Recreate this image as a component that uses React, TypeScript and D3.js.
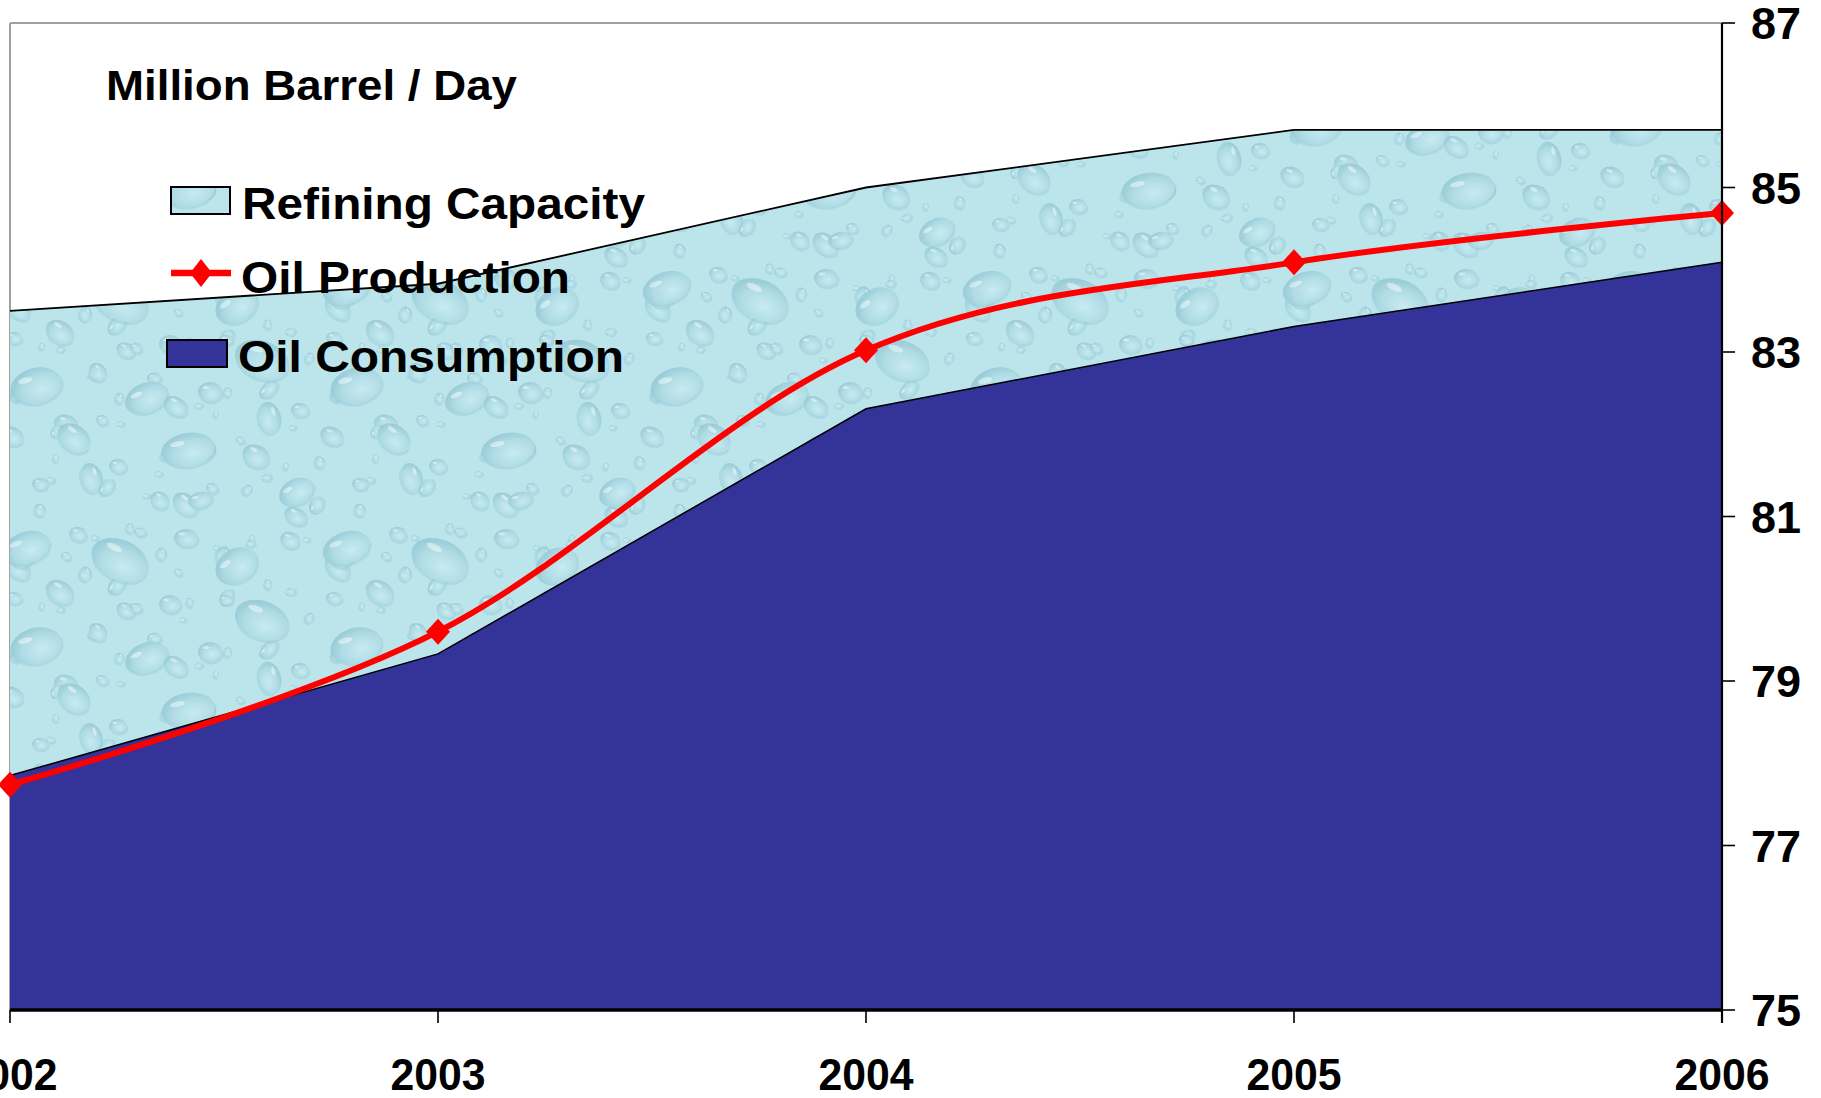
import React from 'react';
import * as d3 from 'd3';

const years = [2002, 2003, 2004, 2005, 2006];
const refiningCapacity = [83.5, 83.83, 85.0, 85.7, 85.7];
const oilProduction = [77.74, 79.6, 83.02, 84.09, 84.69];
const oilConsumption = [77.85, 79.33, 82.31, 83.31, 84.09];
const yTicks = [75, 77, 79, 81, 83, 85, 87];
const titleText = 'Million Barrel / Day';
const legendLabels = ['Refining Capacity', 'Oil Production', 'Oil Consumption'];

// decorative droplet texture tile (cx, cy, rx, ry, rotation)
const drops: [number, number, number, number, number][] = [
  [26, 28, 24, 16, -20], [78, 14, 9, 7, 10], [120, 40, 30, 20, 25], [186, 18, 12, 9, 0], [236, 46, 22, 17, -35],
  [290, 20, 10, 8, 15], [14, 78, 8, 6, 0], [60, 72, 15, 11, 30], [170, 84, 11, 9, 0], [262, 100, 28, 19, 20],
  [36, 126, 26, 18, -15], [98, 112, 10, 8, 40], [146, 138, 22, 15, -25], [210, 132, 12, 10, 0], [300, 150, 9, 7, 0],
  [12, 176, 12, 9, 20], [74, 178, 18, 13, 35], [118, 206, 9, 7, 0], [188, 190, 27, 17, -10], [256, 196, 14, 11, 25],
  [40, 224, 8, 6, 0], [102, 160, 6, 5, 0], [226, 80, 7, 5, 0], [160, 240, 10, 8, 30], [296, 232, 18, 13, -30],
  [66, 36, 5, 4, 0], [212, 228, 6, 5, 0], [136, 88, 6, 5, 0],
];
const TILE_W = 320;
const TILE_H = 260;

const FONT = "'Liberation Sans', Arial, Helvetica, sans-serif";

export default function App() {
  const W = 1821;
  const H = 1098;
  const x = d3.scaleLinear().domain([2002, 2006]).range([10, 1722]);
  const y = d3.scaleLinear().domain([75, 87]).range([1010, 23]);

  const idx = years.map((_, i) => i);
  const areaRef = d3.area<number>().x((i) => x(years[i])).y0(y(75)).y1((i) => y(refiningCapacity[i]))(idx) || '';
  const lineRef = d3.line<number>().x((i) => x(years[i])).y((i) => y(refiningCapacity[i]))(idx) || '';
  const areaCons = d3.area<number>().x((i) => x(years[i])).y0(y(75)).y1((i) => y(oilConsumption[i]))(idx) || '';
  const lineCons = d3.line<number>().x((i) => x(years[i])).y((i) => y(oilConsumption[i]))(idx) || '';
  const lineProd = d3.line<number>().curve(d3.curveCardinal.tension(0)).x((i) => x(years[i])).y((i) => y(oilProduction[i]))(idx) || '';

  const diamond = (cx: number, cy: number, w = 12, h = 13) => `M${cx},${cy - h}L${cx + w},${cy}L${cx},${cy + h}L${cx - w},${cy}Z`;

  const left = x.range()[0];
  const right = x.range()[1];
  const top = y.range()[1];
  const bottom = y.range()[0];

  // three layers of the droplet list: shifted/scaled copies for density
  const layers: [number, number, number, number][] = [
    [150, 118, 0.55, 50],
    [80, 200, 0.4, -40],
    [0, 0, 1, 0],
  ];
  const tileDrops = [] as any[];
  layers.forEach(([sx, sy, sc, dr], L) => {
    drops.forEach(([cx0, cy0, rx0, ry0, rot0], k) => {
      const cx = (cx0 + sx) % TILE_W;
      const cy = (cy0 + sy) % TILE_H;
      const rx = Math.max(3, rx0 * sc);
      const ry = Math.max(2.5, ry0 * sc);
      const rot = rot0 + dr;
      const offs = [[0, 0], [TILE_W, 0], [-TILE_W, 0], [0, TILE_H], [0, -TILE_H], [TILE_W, TILE_H], [-TILE_W, -TILE_H], [TILE_W, -TILE_H], [-TILE_W, TILE_H]];
      offs.forEach(([ox, oy], j) => {
        const X = cx + ox;
        const Y = cy + oy;
        const m = Math.max(rx, ry) + 4;
        if (X + m < 0 || X - m > TILE_W || Y + m < 0 || Y - m > TILE_H) return;
        tileDrops.push(
          <g key={`${L}-${k}-${j}`} transform={`translate(${X},${Y}) rotate(${rot})`}>
            <ellipse cx={1.5} cy={2.5} rx={rx} ry={ry} fill="#94c7d2" opacity={0.4} />
            <ellipse cx={0} cy={0} rx={rx} ry={ry} fill="url(#dropGrad)" opacity={0.85} />
            <ellipse cx={-rx * 0.35} cy={-ry * 0.45} rx={Math.max(1.2, rx * 0.28)} ry={Math.max(0.9, ry * 0.16)} fill="#ffffff" opacity={0.45} />
          </g>
        );
      });
    });
  });

  return (
    <svg width={W} height={H} style={{ position: 'absolute', left: 0, top: 0, background: '#ffffff' }} fontFamily={FONT}>
      <defs>
        <radialGradient id="dropGrad" cx="0.6" cy="0.62" r="0.62">
          <stop offset="0%" stopColor="#cdeef4" />
          <stop offset="65%" stopColor="#b0dce5" />
          <stop offset="100%" stopColor="#95c9d5" />
        </radialGradient>
        <pattern id="water" patternUnits="userSpaceOnUse" width={TILE_W} height={TILE_H}>
          <rect width={TILE_W} height={TILE_H} fill="#bbe4eb" />
          {tileDrops}
        </pattern>
      </defs>
      <rect x={0} y={0} width={W} height={H} fill="#ffffff" />

      {/* plot area border */}
      <line x1={left} y1={top} x2={right} y2={top} stroke="#a0a0a0" strokeWidth={2} />
      <line x1={left} y1={top} x2={left} y2={bottom} stroke="#a0a0a0" strokeWidth={2} />

      {/* Refining capacity area */}
      <path d={areaRef} fill="url(#water)" />
      <path d={lineRef} fill="none" stroke="#000" strokeWidth={1.8} />

      {/* Oil consumption area */}
      <path d={areaCons} fill="#333399" />
      <path d={lineCons} fill="none" stroke="#000" strokeWidth={1.5} />

      {/* Oil production line */}
      <path d={lineProd} fill="none" stroke="#ff0000" strokeWidth={6} strokeLinejoin="round" />
      {idx.map((i) => (
        <path key={i} d={diamond(x(years[i]), y(oilProduction[i]))} fill="#ff0000" />
      ))}

      {/* X axis */}
      <line x1={left} y1={bottom} x2={right} y2={bottom} stroke="#000" strokeWidth={3.5} />
      {years.map((yr) => (
        <g key={yr}>
          <line x1={x(yr)} y1={bottom} x2={x(yr)} y2={bottom + 13} stroke="#000" strokeWidth={1.6} />
          <text x={x(yr)} y={1090} textAnchor="middle" fontSize={45} fontWeight="bold" textLength={95} lengthAdjust="spacingAndGlyphs">{yr}</text>
        </g>
      ))}

      {/* Right Y axis */}
      <line x1={right} y1={top} x2={right} y2={bottom + 13} stroke="#000" strokeWidth={2.2} />
      {yTicks.map((t) => (
        <g key={t}>
          <line x1={right} y1={y(t)} x2={right + 13} y2={y(t)} stroke="#000" strokeWidth={1.6} />
          <text x={1751} y={y(t) + 16} fontSize={45} fontWeight="bold">{t}</text>
        </g>
      ))}

      {/* Title */}
      <text x={106} y={100} fontSize={42} fontWeight="bold" textLength={411} lengthAdjust="spacingAndGlyphs">{titleText}</text>

      {/* Legend */}
      <rect x={171} y={187} width={59} height={27} fill="url(#water)" stroke="#000" strokeWidth={2} />
      <text x={242} y={219} fontSize={45} fontWeight="bold" textLength={403} lengthAdjust="spacingAndGlyphs">{legendLabels[0]}</text>

      <line x1={171} y1={273} x2={231} y2={273} stroke="#ff0000" strokeWidth={6.5} />
      <path d={diamond(201, 273, 11, 14)} fill="#ff0000" />
      <text x={241} y={293} fontSize={45} fontWeight="bold" textLength={329} lengthAdjust="spacingAndGlyphs">{legendLabels[1]}</text>

      <rect x={167} y={340} width={60} height={27} fill="#333399" stroke="#000" strokeWidth={2} />
      <text x={238} y={372} fontSize={45} fontWeight="bold" textLength={386} lengthAdjust="spacingAndGlyphs">{legendLabels[2]}</text>
    </svg>
  );
}
